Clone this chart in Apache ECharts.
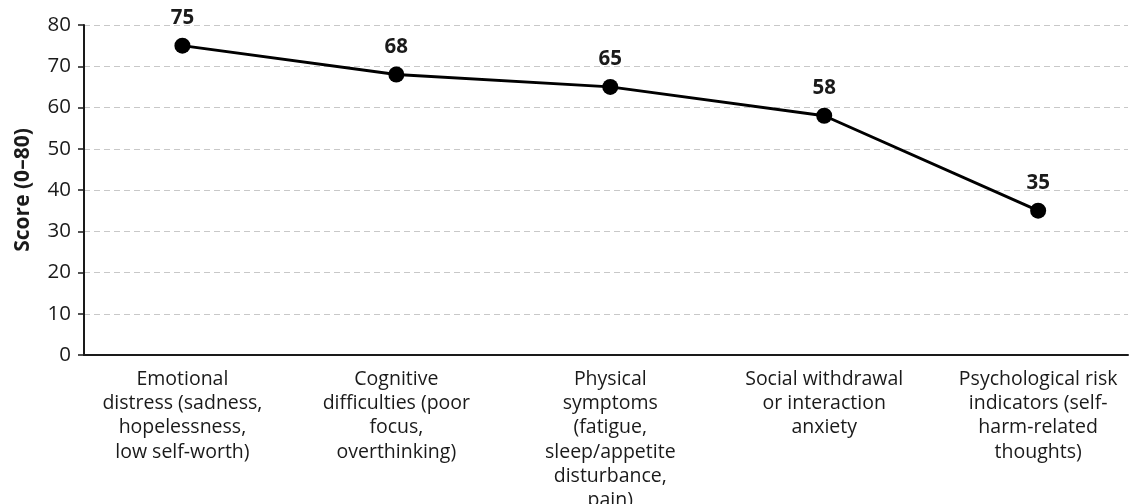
<!DOCTYPE html>
<html>
<head>
<meta charset="utf-8">
<script src="https://cdn.jsdelivr.net/npm/echarts@6/dist/echarts.min.js"></script>
<style>
  html, body { margin: 0; padding: 0; background: #fff; }
  #chart { width: 1130px; height: 504px; }
</style>
</head>
<body>
<div id="chart"></div>
<script>
// Symptom domains (line breaks as shown under the axis)
const categories = [
  'Emotional\ndistress (sadness,\nhopelessness,\nlow self-worth)',
  'Cognitive\ndifficulties (poor\nfocus,\noverthinking)',
  'Physical\nsymptoms\n(fatigue,\nsleep/appetite\ndisturbance,\npain)',
  'Social withdrawal\nor interaction\nanxiety',
  'Psychological risk\nindicators (self-\nharm-related\nthoughts)'
];
const scores = [75, 68, 65, 58, 35];
const yTicks = [0, 10, 20, 30, 40, 50, 60, 70, 80];

const FONT = '"Open Sans", "DejaVu Sans", sans-serif';
const INK = '#1a1a1a';

const chart = echarts.init(document.getElementById('chart'), null, { renderer: 'canvas' });

chart.setOption({
  animation: false,
  backgroundColor: '#ffffff',
  grid: { left: 84, right: 2, top: 25, bottom: 149, containLabel: false, outerBoundsMode: 'none' },
  xAxis: {
    type: 'value',
    min: -0.46,
    max: 4.42,
    splitLine: { show: false },
    axisLine: { show: true, onZero: false, lineStyle: { color: INK, width: 2 } },
    axisTick: { show: false },
    axisLabel: {
      customValues: categories.map((_, i) => i),
      formatter: v => categories[Math.round(v)] || '',
      color: INK,
      fontFamily: FONT,
      fontSize: 19.5,
      lineHeight: 24.3,
      margin: 12,
      align: 'center',
      verticalAlign: 'top'
    }
  },
  yAxis: {
    type: 'value',
    min: 0,
    max: 80,
    interval: 10,
    name: 'Score (0–80)',
    nameLocation: 'middle',
    nameGap: 50,
    nameRotate: 90,
    nameTextStyle: { color: INK, fontFamily: FONT, fontSize: 21, fontWeight: 'bold' },
    axisLine: { show: true, onZero: false, lineStyle: { color: INK, width: 2 } },
    axisTick: { show: true, length: 6, lineStyle: { color: INK, width: 1.5 } },
    axisLabel: {
      customValues: yTicks,
      color: INK, fontFamily: FONT, fontSize: 20.5, margin: 13
    },
    splitLine: { show: true, lineStyle: { color: '#c8c8c8', type: [6, 4], width: 1 } }
  },
  series: [{
    type: 'line',
    data: scores.map((s, i) => [i, s]),
    symbol: 'circle',
    symbolSize: 16,
    lineStyle: { color: '#000', width: 3 },
    itemStyle: { color: '#000' },
    label: {
      show: true,
      position: 'top',
      distance: 9,
      formatter: p => String(p.value[1]),
      color: INK,
      fontFamily: FONT,
      fontSize: 20.5,
      fontWeight: 'bold'
    }
  }]
});
</script>
</body>
</html>
